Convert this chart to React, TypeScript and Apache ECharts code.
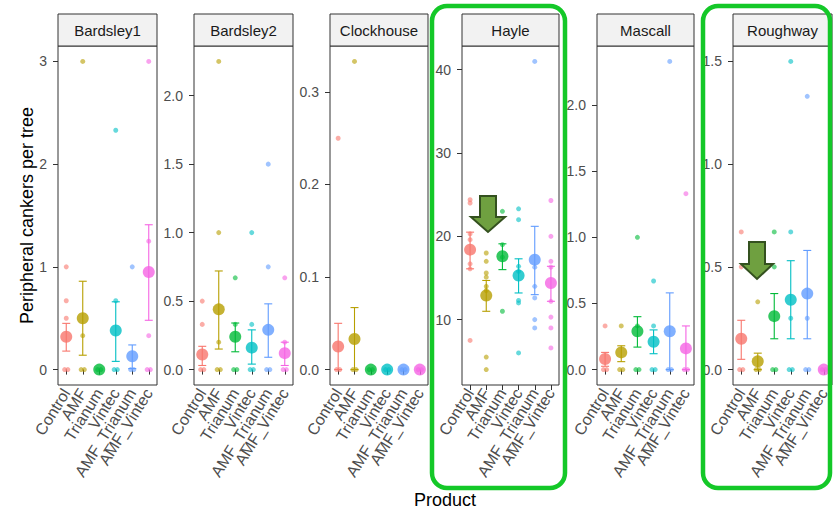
import React, { useEffect, useRef } from "react";
import * as echarts from "echarts";

const categories = ["Control", "AMF", "Trianum", "Vintec", "AMF_Trianum", "AMF_Vintec"];
const sites = ["Bardsley1", "Bardsley2", "Clockhouse", "Hayle", "Mascall", "Roughway"];
const colors = ["#F8766D", "#B79F00", "#00BA38", "#00BFC4", "#619CFF", "#F564E3"];

// Bardsley1
const meanBardsley1 = [0.32, 0.5, 0, 0.38, 0.13, 0.95];
const lowBardsley1 = [0.18, 0.14, 0, 0.08, 0.01, 0.48];
const highBardsley1 = [0.45, 0.86, 0, 0.66, 0.24, 1.41];
const rawBardsley1 = [[1, 0.67, 0.5, 0], [3, 0.33, 0], [0], [2.33, 0.67, 0], [1, 0], [3, 1.25, 0.33, 0]];
const ticksBardsley1 = [0, 1, 2, 3];

// Bardsley2
const meanBardsley2 = [0.11, 0.44, 0.24, 0.16, 0.29, 0.12];
const lowBardsley2 = [0.03, 0.15, 0.13, 0.04, 0.09, 0.03];
const highBardsley2 = [0.17, 0.72, 0.34, 0.29, 0.48, 0.2];
const rawBardsley2 = [[0.5, 0.33, 0], [2.25, 1, 0.2, 0], [0.67, 0.33, 0], [1, 0.33, 0], [1.5, 0.75, 0], [0.67, 0.2, 0]];
const ticksBardsley2 = [0, 0.5, 1, 1.5, 2];

// Clockhouse
const meanClockhouse = [0.025, 0.033, 0, 0, 0, 0];
const lowClockhouse = [0, 0, 0, 0, 0, 0];
const highClockhouse = [0.05, 0.067, 0, 0, 0, 0];
const rawClockhouse = [[0.25, 0], [0.333, 0], [0], [0], [0], [0]];
const ticksClockhouse = [0, 0.1, 0.2, 0.3];

// Hayle
const meanHayle = [18.4, 12.9, 17.6, 15.3, 17.2, 14.4];
const lowHayle = [16.1, 11.0, 16.0, 13.2, 13.0, 12.2];
const highHayle = [20.5, 14.7, 19.1, 17.3, 21.2, 16.4];
const rawHayle = [
  [24.4, 24.0, 20.3, 19.6, 16.7, 16.1, 7.5],
  [18, 17, 15.6, 15.1, 14, 13.5, 5.5, 4],
  [23, 19, 17.5, 11],
  [23.3, 22, 16.4, 15.8, 12.3, 12, 6],
  [41, 16.3, 14, 12.6, 10, 9],
  [24.3, 20, 17, 16.3, 12.2, 10.3, 9, 6.6],
];
const ticksHayle = [10, 20, 30, 40];

// Mascall
const meanMascall = [0.08, 0.13, 0.29, 0.21, 0.29, 0.16];
const lowMascall = [0.025, 0.06, 0.17, 0.12, 0, 0];
const highMascall = [0.13, 0.18, 0.4, 0.3, 0.58, 0.33];
const rawMascall = [[0.33, 0], [0.33, 0], [1, 0.33, 0], [0.67, 0.33, 0], [2.33, 0], [1.33, 0]];
const ticksMascall = [0, 0.5, 1, 1.5, 2];

// Roughway
const meanRoughway = [0.15, 0.04, 0.26, 0.34, 0.37, 0];
const lowRoughway = [0.05, 0.0, 0.15, 0.15, 0.15, 0];
const highRoughway = [0.24, 0.08, 0.37, 0.53, 0.58, 0];
const rawRoughway = [[0.67, 0.5, 0], [0.33, 0], [0.67, 0.5, 0], [1.5, 0.67, 0.25, 0], [1.33, 0.25, 0], [0]];
const ticksRoughway = [0, 0.5, 1, 1.5];

const panels = [
  { mean: meanBardsley1, low: lowBardsley1, high: highBardsley1, raw: rawBardsley1, ticks: ticksBardsley1, dec: 0 },
  { mean: meanBardsley2, low: lowBardsley2, high: highBardsley2, raw: rawBardsley2, ticks: ticksBardsley2, dec: 1 },
  { mean: meanClockhouse, low: lowClockhouse, high: highClockhouse, raw: rawClockhouse, ticks: ticksClockhouse, dec: 1 },
  { mean: meanHayle, low: lowHayle, high: highHayle, raw: rawHayle, ticks: ticksHayle, dec: 0 },
  { mean: meanMascall, low: lowMascall, high: highMascall, raw: rawMascall, ticks: ticksMascall, dec: 1 },
  { mean: meanRoughway, low: lowRoughway, high: highRoughway, raw: rawRoughway, ticks: ticksRoughway, dec: 1 },
];

// layout
const panelLefts = [58, 194, 330, 462, 597, 733];
const panelRights = [157, 293, 428, 559, 694, 832];
const stripTop = 14;
const plotTop = 46;
const plotBottom = 385;
const zeroJitterPx = [-1.6, 1.6];
const FONT = "Liberation Sans, Arial, sans-serif";

export default function App() {
  const ref = useRef<HTMLDivElement>(null);
  useEffect(() => {
    if (!ref.current) return;
    const chart = echarts.init(ref.current, null, { renderer: "svg" });
    const grids: any[] = [];
    const xAxes: any[] = [];
    const yAxes: any[] = [];
    const series: any[] = [];
    const graphics: any[] = [];

    panels.forEach((p, k) => {
      const left = panelLefts[k];
      const width = panelRights[k] - left;
      grids.push({
        left, top: plotTop, width, height: plotBottom - plotTop,
        show: true, borderColor: "#333333", borderWidth: 1, backgroundColor: "#ffffff",
      });
      const all = ([] as number[]).concat(...p.raw, p.low, p.high);
      const mn = Math.min(...all), mx = Math.max(...all);
      const pad = (mx - mn) * 0.05;
      xAxes.push({
        type: "category", gridIndex: k, data: categories, boundaryGap: true,
        axisLine: { show: false },
        splitLine: { show: false },
        axisTick: { show: true, alignWithLabel: true, interval: 0, length: 5, lineStyle: { color: "#333333" } },
        axisLabel: {
          interval: 0, rotate: 58, margin: 5, color: "#4D4D4D",
          fontSize: 16, fontFamily: FONT, hideOverlap: false,
        },
      });
      yAxes.push({
        type: "value", gridIndex: k, min: mn - pad, max: mx + pad,
        axisLine: { show: false },
        splitLine: { show: false },
        axisTick: { show: true, customValues: p.ticks, length: 5, lineStyle: { color: "#333333" } },
        axisLabel: {
          customValues: p.ticks, margin: 11, color: "#4D4D4D", fontSize: 14, fontFamily: FONT,
          showMinLabel: true, showMaxLabel: true, hideOverlap: false,
          formatter: (v: number) => v.toFixed(p.dec),
        },
      });

      const rawData: any[] = [];
      p.raw.forEach((vals, i) => {
        vals.forEach((v) => {
          if (v === 0) {
            zeroJitterPx.forEach((j) =>
              rawData.push({ value: [i, v], symbolOffset: [j, 0], itemStyle: { color: colors[i], opacity: 0.6 } })
            );
          } else {
            rawData.push({ value: [i, v], itemStyle: { color: colors[i], opacity: 0.6 } });
          }
        });
      });
      series.push({
        type: "scatter", xAxisIndex: k, yAxisIndex: k, symbol: "circle", symbolSize: 5,
        data: rawData, z: 2, silent: true,
      });

      const errData: any[] = [];
      p.mean.forEach((_, i) => {
        if (p.high[i] > p.low[i]) errData.push([i, p.low[i], p.high[i], i]);
      });
      series.push({
        type: "custom", xAxisIndex: k, yAxisIndex: k, z: 3, silent: true,
        encode: { x: 0, y: [1, 2] },
        data: errData,
        renderItem: (_params: any, api: any) => {
          const x = api.value(0);
          const p1 = api.coord([x, api.value(1)]);
          const p2 = api.coord([x, api.value(2)]);
          const c = colors[api.value(3)];
          const w = 4;
          const st = { stroke: c, lineWidth: 1.1 };
          return {
            type: "group",
            children: [
              { type: "line", shape: { x1: p1[0], y1: p1[1], x2: p2[0], y2: p2[1] }, style: st },
              { type: "line", shape: { x1: p1[0] - w, y1: p1[1], x2: p1[0] + w, y2: p1[1] }, style: st },
              { type: "line", shape: { x1: p2[0] - w, y1: p2[1], x2: p2[0] + w, y2: p2[1] }, style: st },
            ],
          };
        },
      });

      series.push({
        type: "scatter", xAxisIndex: k, yAxisIndex: k, symbol: "circle", symbolSize: 12, z: 4, silent: true,
        data: p.mean.map((m, i) => ({ value: [i, m], itemStyle: { color: colors[i] } })),
      });

      // strip
      graphics.push({
        type: "rect", shape: { x: left, y: stripTop, width, height: plotTop - stripTop },
        style: { fill: "#F2F2F2", stroke: "#333333", lineWidth: 1 }, z: 10,
      });
      graphics.push({
        type: "text", x: left + width / 2, y: (stripTop + plotTop) / 2, z: 11,
        style: {
          text: sites[k], textAlign: "center", textVerticalAlign: "middle",
          fill: "#1A1A1A", font: `15px ${FONT}`,
        },
      });
    });

    // axis titles
    graphics.push({
      type: "text", x: 27, y: (plotTop + plotBottom) / 2, rotation: Math.PI / 2, z: 11,
      style: {
        text: "Peripheral cankers per tree", textAlign: "center", textVerticalAlign: "middle",
        fill: "#000000", font: `18px ${FONT}`,
      },
    });
    graphics.push({
      type: "text", x: 445, y: 500, z: 11,
      style: { text: "Product", textAlign: "center", textVerticalAlign: "middle", fill: "#000000", font: `18px ${FONT}` },
    });

    // highlight boxes
    const boxStyle = { fill: "none", stroke: "#14C828", lineWidth: 4.5 };
    graphics.push({ type: "rect", shape: { x: 432, y: 6, width: 133, height: 482, r: 15 }, style: boxStyle, z: 20 });
    graphics.push({ type: "rect", shape: { x: 703, y: 6, width: 127, height: 482, r: 15 }, style: boxStyle, z: 20 });

    // arrows
    const arrowStyle = { fill: "#6FA040", stroke: "#34511F", lineWidth: 2 };
    graphics.push({
      type: "polygon", z: 21, style: arrowStyle,
      shape: { points: [[480, 196], [496, 196], [496, 217], [505, 217], [488, 232], [471, 217], [480, 217]] },
    });
    graphics.push({
      type: "polygon", z: 21, style: arrowStyle,
      shape: { points: [[749, 242], [765, 242], [765, 264], [773, 264], [757, 279], [741, 264], [749, 264]] },
    });

    chart.setOption({
      animation: false,
      textStyle: { fontFamily: FONT },
      grid: grids,
      xAxis: xAxes,
      yAxis: yAxes,
      series,
      graphic: graphics,
    });
    return () => chart.dispose();
  }, []);
  return <div ref={ref} style={{ position: "fixed", left: 0, top: 0, width: 833, height: 514, background: "#fff" }} />;
}
